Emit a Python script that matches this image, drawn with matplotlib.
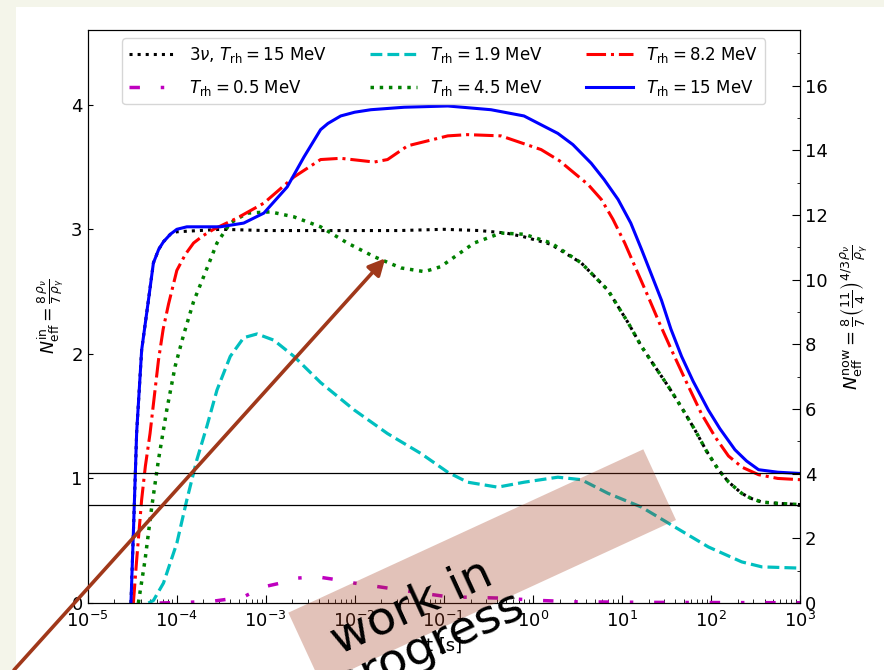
import matplotlib
matplotlib.use("Agg")
import matplotlib.pyplot as plt
import numpy as np
from matplotlib.patches import Polygon, Rectangle, FancyArrowPatch
from matplotlib.ticker import MultipleLocator, FixedLocator

# values (log10 t [s], N_eff^in)
black_logt = [-4.512, -4.485, -4.448, -4.392, -4.316, -4.26, -4.2, -4.147, -4.07, -3.997, -3.5, -3.0,
              -2.5, -2.0, -1.5, -1.0, -0.6, -0.3, -0.1, 0.2, 0.544, 0.845, 1.07, 1.22, 1.35, 1.52,
              1.67, 1.82, 1.95, 2.084, 2.2, 2.346, 2.45, 2.572, 2.75, 3.0]
black_n = [0, 0.56, 1.37, 2.03, 2.43, 2.73, 2.84, 2.90, 2.96, 2.98, 3.0, 2.99,
           2.99, 2.99, 2.99, 3.0, 2.99, 2.97, 2.94, 2.88, 2.73, 2.51, 2.25, 2.06, 1.92, 1.74,
           1.57, 1.39, 1.22, 1.07, 0.97, 0.88, 0.84, 0.81, 0.80, 0.79]

magenta_logt = [-4.19, -3.884, -3.584, -3.43, -3.246, -3.02, -2.833, -2.645, -2.42, -2.232, -2.006,
                -1.819, -1.631, -1.256, -0.955, -0.395, 0.093, 0.468, 1.33, 3.0]
magenta_n = [0.0, 0.005, 0.015, 0.03, 0.05, 0.13, 0.16, 0.20, 0.21, 0.19, 0.16,
             0.14, 0.12, 0.08, 0.05, 0.04, 0.02, 0.01, 0.005, 0.002]

cyan_logt = [-4.316, -4.26, -4.147, -3.997, -3.884, -3.772, -3.659, -3.546, -3.397, -3.246, -3.096,
             -2.908, -2.682, -2.383, -2.006, -1.631, -1.256, -0.955, -0.733, -0.395, -0.095, 0.281,
             0.544, 0.845, 1.22, 1.595, 1.971, 2.346, 2.572, 3.0]
cyan_n = [0, 0.02, 0.16, 0.48, 0.83, 1.15, 1.42, 1.71, 1.98, 2.13, 2.16,
          2.11, 1.98, 1.77, 1.55, 1.36, 1.20, 1.05, 0.97, 0.93, 0.97, 1.01,
          0.99, 0.88, 0.77, 0.61, 0.45, 0.33, 0.29, 0.28]

green_logt = [-4.429, -4.354, -4.279, -4.203, -4.11, -4.016, -3.922, -3.809, -3.696, -3.546, -3.397,
              -3.208, -2.946, -2.682, -2.383, -2.082, -1.781, -1.481, -1.217, -1.034, -0.659, -0.358,
              -0.095, 0.206, 0.544, 0.845, 1.07, 1.22, 1.35, 1.52, 1.67, 1.82, 1.95, 2.084, 2.2,
              2.346, 2.45, 2.572, 2.75, 3.0]
green_n = [0, 0.345, 0.77, 1.15, 1.55, 1.90, 2.15, 2.42, 2.62, 2.89, 3.05,
           3.13, 3.14, 3.10, 3.02, 2.89, 2.78, 2.69, 2.66, 2.70, 2.89, 2.97,
           2.96, 2.89, 2.73, 2.51, 2.25, 2.06, 1.92, 1.74, 1.57, 1.39, 1.22, 1.07, 0.97,
           0.88, 0.84, 0.81, 0.80, 0.79]

red_logt = [-4.485, -4.448, -4.392, -4.35, -4.298, -4.203, -4.15, -4.09, -3.997, -3.9, -3.809, -3.7,
            -3.584, -3.321, -3.02, -2.682, -2.383, -2.157, -1.781, -1.631, -1.406, -0.955, -0.733,
            -0.358, 0.093, 0.3, 0.468, 0.62, 0.769, 0.9, 1.032, 1.16, 1.295, 1.42, 1.558, 1.72,
            1.893, 2.05, 2.197, 2.35, 2.535, 2.75, 3.0]
red_n = [0, 0.345, 0.83, 1.1, 1.36, 1.95, 2.2, 2.40, 2.67, 2.8, 2.89, 2.95,
         3.0, 3.09, 3.21, 3.42, 3.56, 3.57, 3.54, 3.56, 3.67, 3.75, 3.76,
         3.75, 3.64, 3.55, 3.45, 3.36, 3.24, 3.08, 2.89, 2.68, 2.46, 2.25, 2.03, 1.78,
         1.52, 1.33, 1.18, 1.09, 1.03, 1.0, 0.99]

blue_logt = [-4.512, -4.485, -4.448, -4.392, -4.316, -4.26, -4.2, -4.147, -4.07, -3.997, -3.884,
             -3.509, -3.246, -3.02, -2.758, -2.57, -2.383, -2.3, -2.157, -2.0, -1.819, -1.443,
             -0.955, -0.47, -0.099, 0.281, 0.45, 0.656, 0.8, 0.957, 1.1, 1.22, 1.33, 1.445, 1.55,
             1.67, 1.8, 1.97, 2.1, 2.27, 2.4, 2.535, 2.75, 3.0]
blue_n = [0, 0.56, 1.37, 2.03, 2.43, 2.73, 2.84, 2.90, 2.96, 3.0, 3.02,
          3.02, 3.05, 3.13, 3.34, 3.58, 3.80, 3.85, 3.91, 3.94, 3.96, 3.98,
          3.99, 3.96, 3.91, 3.77, 3.68, 3.53, 3.40, 3.24, 3.05, 2.84, 2.64, 2.43, 2.2,
          1.98, 1.78, 1.55, 1.40, 1.23, 1.14, 1.07, 1.05, 1.04]

hlines_n = [1.047, 0.785]
labels = [r"$3\nu$, $T_{\rm rh} = 15$ MeV", r"$T_{\rm rh} = 0.5$ MeV", r"$T_{\rm rh} = 1.9$ MeV",
          r"$T_{\rm rh} = 4.5$ MeV", r"$T_{\rm rh} = 8.2$ MeV", r"$T_{\rm rh} = 15$ MeV"]

ratio = (11 / 4) ** (4 / 3)
W, H = 884, 670


def fxy(x, y):
    # image pixel -> figure fraction
    return x / W, 1 - y / H


fig = plt.figure(figsize=(W / 100, H / 100), dpi=100, facecolor="#f4f5ea")
fig.add_artist(Rectangle((16 / W, 0), 1, 1 - 7 / H, transform=fig.transFigure,
                         facecolor="white", edgecolor="none", zorder=-10))

ax = fig.add_axes([87.5 / W, 1 - 603 / H, (800 - 87.5) / W, (603 - 30) / H])
ax.set_xscale("log")

series = [
    (black_logt, black_n, dict(color="black", ls=":", lw=2.2)),
    (magenta_logt, magenta_n, dict(color="m", ls=(0, (3, 6, 1, 6)), lw=2.5)),
    (cyan_logt, cyan_n, dict(color="c", ls="--", lw=2.3)),
    (green_logt, green_n, dict(color="green", ls=":", lw=2.5)),
    (red_logt, red_n, dict(color="red", ls="-.", lw=2.2)),
    (blue_logt, blue_n, dict(color="blue", ls="-", lw=2.2)),
]
for (lt, n, style), lab in zip(series, labels):
    ax.plot(10 ** np.array(lt), n, label=lab, **style)

for h in hlines_n:
    ax.axhline(h, color="black", lw=0.9)

ax.set_xlim(1e-5, 1e3)
ax.set_ylim(0, 4.6)
ax.set_yticks([0, 1, 2, 3, 4])
ax.xaxis.set_major_locator(FixedLocator(10.0 ** np.arange(-5, 4)))
ax.tick_params(axis="both", which="both", direction="in", labelsize=13)
ax.tick_params(axis="x", which="major", length=6, pad=6)
ax.tick_params(axis="x", which="minor", length=3)
ax.set_xlabel("t [s]", fontsize=13)
ax.set_ylabel(r"$N_{\rm eff}^{\rm in} = \frac{8}{7}\frac{\rho_\nu}{\rho_\gamma}$", fontsize=12.5)

ax2 = ax.twinx()
ax2.set_ylim(0, 4.6 * ratio)
ax2.yaxis.set_major_locator(MultipleLocator(2))
ax2.yaxis.set_minor_locator(MultipleLocator(1))
ax2.tick_params(axis="y", which="both", direction="in", labelsize=13)
ax2.tick_params(axis="y", which="major", length=6)
ax2.set_ylabel(r"$N_{\rm eff}^{\rm now} = \frac{8}{7}\left(\frac{11}{4}\right)^{4/3}\frac{\rho_\nu}{\rho_\gamma}$",
               fontsize=13, labelpad=8)

ax.legend(ncol=3, loc="upper center", fontsize=12, handlelength=2.8, columnspacing=2.6,
          labelspacing=0.75, bbox_to_anchor=(0.5, 1.0))

# "work in progress" overlay
brown = "#a0381a"
corners = [(288.3, 612.7), (643.3, 449.3), (676.0, 520.0), (321.0, 683.4)]
fig.add_artist(Polygon([fxy(*c) for c in corners], closed=True, transform=fig.transFigure,
                       facecolor=brown, alpha=0.3, edgecolor="none", zorder=5))
fig.text(*fxy(420, 626), "work in\nprogress", rotation=24.7, rotation_mode="anchor",
         ha="center", va="center", multialignment="center", fontsize=34, linespacing=0.9,
         color="black", zorder=6)
fig.add_artist(FancyArrowPatch(fxy(14, 670), fxy(385.3, 258.3), transform=fig.transFigure,
                               arrowstyle="-|>", mutation_scale=25, color=brown, lw=2.6,
                               shrinkA=0, shrinkB=0, zorder=7))

fig.savefig("out.png", dpi=100, facecolor=fig.get_facecolor())
